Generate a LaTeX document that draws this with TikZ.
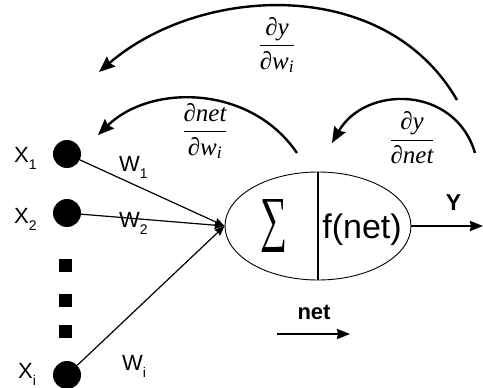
\documentclass[tikz,border=0pt]{standalone}
\usepackage{fontspec}
\usepackage{amsmath}
\setmainfont{Liberation Sans}
\newfontfamily\tnr{Liberation Serif}
\usetikzlibrary{arrows.meta,shapes.geometric}
\newcommand{\sublab}[2]{{\fontsize{22}{22}\selectfont #1\raisebox{-7pt}{\fontsize{14}{14}\selectfont #2}}}
\newcommand{\ti}[1]{\text{\tnr\itshape #1}}
\newcommand{\myfrac}[2]{\ensuremath{\dfrac{#1}{#2}}}
\begin{document}
\begin{tikzpicture}[x=1pt,y=-1pt,
  inputdot/.style={circle,fill=black,inner sep=0pt,minimum size=28pt},
  dotsq/.style={rectangle,fill=black,inner sep=0pt,minimum size=13pt},
  lab/.style={inner sep=0pt,anchor=base west},
  frac/.style={inner sep=0pt,font=\fontsize{25}{27}\selectfont},
  inarrow/.style={line width=1.2pt,-{Stealth[length=10pt,width=8pt,inset=1pt]}},
  backarc/.style={line width=2.4pt,-{Stealth[length=16pt,width=13pt,inset=2pt]}},
  fwdarrow/.style={line width=2pt,-{Stealth[length=13pt,width=10pt,inset=1pt]}}]
\useasboundingbox (0,0) rectangle (483,388);
% neuron
\node[ellipse,draw,line width=0.9pt,minimum width=186pt,minimum height=108pt,inner sep=0pt] (neuron) at (318,226) {};
\draw[line width=1.4pt] (neuron.north) -- (neuron.south);
\node[inner sep=0pt] (sigma) at (274,226) {\resizebox{27pt}{40pt}{\tnr ∑}};
\node[inner sep=0pt,anchor=base,font=\fontsize{34}{34}\selectfont] (fnet) at (362,238) {f(net)};
% inputs
\node[inputdot] (x1) at (67,154) {};
\node[inputdot] (x2) at (67,213) {};
\node[inputdot] (xi) at (67,375) {};
\node[dotsq] (s1) at (65,265) {};
\node[dotsq] (s2) at (65,300) {};
\node[dotsq] (s3) at (65,331) {};
\node[lab] (lx1) at (14,162) {\sublab{X}{1}};
\node[lab] (lx2) at (14,223) {\sublab{X}{2}};
\node[lab] (lxi) at (18,378) {\sublab{X}{i}};
\draw[inarrow] (x1) -- (neuron.west);
\draw[inarrow] (x2) -- (neuron.west);
\draw[inarrow] (xi) -- (neuron.west);
\node[lab] (lw1) at (119,171) {\sublab{W}{1}};
\node[lab] (lw2) at (119,227) {\sublab{W}{2}};
\node[lab] (lwi) at (122,370) {\sublab{W}{i}};
% output
\coordinate (yend) at (483,226);
\draw[fwdarrow] (neuron.east) -- (yend);
\node[inner sep=0pt,anchor=base,font=\fontsize{23}{23}\selectfont\bfseries] (ylab) at (453.5,210) {Y};
% net
\coordinate (netA) at (277,334);
\coordinate (netB) at (350,334);
\draw[fwdarrow] (netA) -- (netB);
\node[inner sep=0pt,anchor=base,font=\fontsize{22}{22}\selectfont\bfseries] (netlab) at (314,319) {net};
% back-propagation arcs
\coordinate (a1s) at (457,100);
\coordinate (a1e) at (99,72);
\draw[backarc] (a1s) .. controls (385,-25) and (200,-15) .. (a1e);
\node[frac] (f1) at (277,45) {\myfrac{\ti{∂y}}{\ti{∂w}_{\ti{i}}}};
\coordinate (a2s) at (297,153);
\coordinate (a2e) at (98,135);
\draw[backarc] (a2s) .. controls (250,84) and (150,84) .. (a2e);
\node[frac] (f2) at (205,131) {\myfrac{\ti{∂net}}{\ti{∂w}_{\ti{i}}}};
\coordinate (a3s) at (475,153);
\coordinate (a3e) at (332,143);
\draw[backarc] (a3s) .. controls (455,85) and (365,85) .. (a3e);
\node[frac] (f3) at (412,138) {\myfrac{\ti{∂y}}{\ti{∂net}}};
\end{tikzpicture}
\end{document}
